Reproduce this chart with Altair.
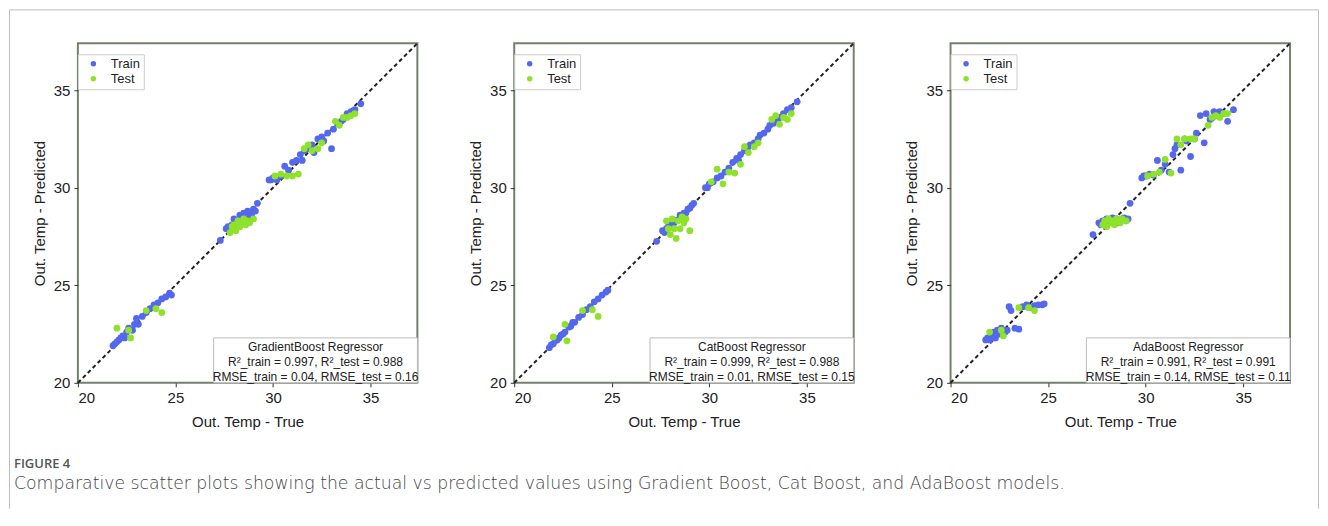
import altair as alt
import pandas as pd

# ---------------- data ----------------
train_true = [21.8, 21.9, 22.0, 22.1, 22.2, 22.3, 22.4, 22.5, 22.6, 22.8, 22.9, 23.0, 23.1, 23.3, 23.5, 23.7, 23.9, 24.1, 24.3, 24.5, 24.7, 24.8,
              27.3, 27.6, 27.7, 27.8, 27.9, 28.0, 28.1, 28.2, 28.3, 28.4, 28.5, 28.6, 28.7, 28.8, 28.9, 29.0, 29.1, 29.2,
              29.8, 29.9, 30.0, 30.2, 30.4, 30.6, 30.8, 31.0, 31.2, 31.4, 31.5, 31.6, 31.8, 32.0, 32.1, 32.3, 32.5, 32.6, 32.8, 33.0,
              33.1, 33.3, 33.5, 33.6, 33.8, 34.0, 34.2, 34.5]
test_true = [22.0, 22.6, 22.7, 23.5, 24.0, 24.3,
             27.8, 27.9, 28.0, 28.1, 28.2, 28.3, 28.4, 28.5, 28.6, 28.7, 28.8, 29.0,
             30.1, 30.4, 30.7, 31.0, 31.3, 31.6, 31.8, 32.0, 32.3, 32.5, 33.2, 33.4, 33.6, 33.8, 34.0, 34.2]

gb_train_pred = [21.9, 22.0, 22.1, 22.2, 22.3, 22.4, 22.3, 22.6, 22.8, 22.7, 23.0, 23.3, 23.0, 23.4, 23.6, 23.8, 24.0, 24.1, 24.3, 24.4, 24.6, 24.5,
                 27.3, 27.9, 28.0, 27.8, 28.1, 28.4, 28.0, 28.3, 28.6, 28.2, 28.7, 28.4, 28.8, 28.5, 28.6, 28.9, 28.8, 29.2,
                 30.4, 30.4, 30.5, 30.4, 30.6, 31.1, 30.9, 31.3, 31.4, 31.7, 31.4, 31.9, 32.0, 32.2, 31.8, 32.5, 32.6, 32.4, 32.8, 32.0,
                 33.0, 33.3, 33.4, 33.5, 33.8, 33.9, 34.0, 34.3]
gb_test_pred = [22.8, 22.7, 22.3, 23.7, 23.8, 23.6,
                27.7, 28.0, 28.1, 27.8, 28.3, 28.0, 28.2, 28.4, 28.1, 28.3, 28.2, 28.4,
                30.6, 30.7, 30.6, 30.6, 30.7, 32.0, 32.2, 31.9, 32.0, 32.3, 33.4, 33.2, 33.6, 33.6, 33.7, 33.8]

cb_train_pred = [21.8, 21.95, 22.0, 22.15, 22.2, 22.3, 22.45, 22.5, 22.6, 22.85, 22.9, 23.1, 23.1, 23.35, 23.5, 23.75, 23.9, 24.15, 24.3, 24.5, 24.65, 24.75,
                 27.25, 27.8, 27.7, 27.9, 28.0, 28.0, 28.2, 28.2, 28.3, 28.35, 28.6, 28.55, 28.7, 28.7, 28.9, 28.95, 29.1, 29.2,
                 30.0, 30.0, 30.2, 30.3, 30.5, 30.6, 30.8, 31.0, 31.3, 31.5, 31.4, 31.7, 31.9, 32.1, 32.2, 32.3, 32.5, 32.7, 32.8, 33.0,
                 33.2, 33.3, 33.5, 33.6, 33.8, 34.0, 34.1, 34.4]
cb_test_pred = [22.35, 23.0, 22.15, 23.7, 23.75, 23.4,
                28.3, 27.9, 27.6, 28.4, 27.9, 27.4, 28.3, 27.9, 28.5, 28.2, 28.4, 27.8,
                30.3, 30.95, 30.2, 30.8, 30.75, 31.2, 32.1, 31.8, 32.1, 32.3, 33.5, 33.7, 33.25, 33.6, 33.5, 33.8]

ada_train_pred = [22.2, 22.3, 22.2, 22.4, 22.6, 22.3, 22.7, 22.5, 22.8, 22.6, 22.7, 23.9, 23.7, 22.8, 22.75, 23.9, 24.0, 23.85, 23.95, 24.0, 24.0, 24.05,
                  27.6, 28.2, 28.1, 28.3, 28.2, 28.4, 28.2, 28.3, 28.45, 28.3, 28.4, 28.2, 28.3, 28.4, 28.45, 28.3, 28.4, 29.2,
                  30.5, 30.6, 30.6, 30.7, 30.65, 31.4, 30.9, 31.2, 30.8, 31.7, 32.0, 32.2, 30.9, 32.5, 32.4, 31.6, 32.5, 32.8, 33.7, 32.3,
                  33.8, 33.5, 33.9, 33.7, 33.9, 33.8, 33.4, 34.0]
ada_test_pred = [22.6, 22.7, 22.4, 23.85, 23.85, 23.7,
                 28.1, 28.3, 28.0, 28.4, 28.2, 28.3, 28.1, 28.4, 28.3, 28.2, 28.4, 28.3,
                 30.6, 30.7, 30.8, 31.45, 30.75, 32.5, 32.2, 32.5, 32.5, 32.5, 33.2, 33.6, 33.7, 33.6, 33.8, 33.8]

model_names = ["GradientBoost Regressor", "CatBoost Regressor", "AdaBoost Regressor"]
r2_train = ["0.997", "0.999", "0.991"]
r2_test = ["0.988", "0.988", "0.991"]
rmse_train = ["0.04", "0.01", "0.14"]
rmse_test = ["0.16", "0.15", "0.11"]

diag = [20, 37.4]
ticks = [20, 25, 30, 35]
sets = ["Train", "Test"]
caption_head = "FIGURE 4"
caption_text = ("Comparative scatter plots showing the actual vs predicted values using "
                "Gradient Boost, Cat Boost, and AdaBoost models.")

BLUE = "#5468ee"
GREEN = "#8fe22a"
FONT = "Liberation Sans"

one = pd.DataFrame({"k": [0]})


def panel(i, train_pred, test_pred, with_frame=False):
    df = pd.DataFrame({
        "true": train_true + test_true,
        "pred": train_pred + test_pred,
        "set": ["Train"] * len(train_true) + ["Test"] * len(test_true),
        "ord": [0] * len(train_true) + [1] * len(test_true),
    })
    sc = alt.Scale(domain=[20, 37.4], nice=False, zero=False)
    pts = alt.Chart(df).mark_circle(size=46, opacity=1).encode(
        x=alt.X("true:Q", scale=sc, axis=alt.Axis(values=ticks, title="Out. Temp - True")),
        y=alt.Y("pred:Q", scale=sc, axis=alt.Axis(values=ticks, title="Out. Temp - Predicted")),
        color=alt.Color("set:N", scale=alt.Scale(domain=sets, range=[BLUE, GREEN]),
                        legend=alt.Legend(title=None, orient="none", legendX=0, legendY=11,
                                          fillColor="white", strokeColor="#cccccc",
                                          padding=3, symbolOffset=6, labelOffset=11,
                                          symbolType="circle", symbolSize=30,
                                          labelFont=FONT, labelFontSize=13, labelColor="#222",
                                          rowPadding=1)),
        order=alt.Order("ord:Q"),
    )
    line = alt.Chart(pd.DataFrame({"v": diag})).mark_line(
        color="#222", strokeDash=[4, 3], strokeWidth=2).encode(
        x=alt.X("v:Q", scale=sc), y=alt.Y("v:Q", scale=sc))
    box = alt.Chart(one).mark_rect(fill="white", stroke="#bbbbbb", strokeWidth=1).encode(
        x=alt.value(136), x2=alt.value(340), y=alt.value(295), y2=alt.value(340))
    txt = (model_names[i] + "\n" +
           "R\u00b2_train = " + r2_train[i] + ", R\u00b2_test = " + r2_test[i] + "\n" +
           "RMSE_train = " + rmse_train[i] + ", RMSE_test = " + rmse_test[i])
    ann = alt.Chart(one).mark_text(lineBreak="\n", lineHeight=15, align="center", baseline="middle",
                                   font=FONT, fontSize=12, color="#222").encode(
        x=alt.value(238), y=alt.value(304), text=alt.value(txt))
    layers = [line, pts, box, ann]
    if with_frame:
        rule_style = dict(color="#bdbdbd", strokeWidth=1)
        top = alt.Chart(one).mark_rule(**rule_style).encode(
            x=alt.value(-68.5), x2=alt.value(1242.5), y=alt.value(-33.5), y2=alt.value(-33.5))
        left = alt.Chart(one).mark_rule(**rule_style).encode(
            x=alt.value(-68.5), x2=alt.value(-68.5), y=alt.value(-33.5), y2=alt.value(466))
        right = alt.Chart(one).mark_rule(**rule_style).encode(
            x=alt.value(1242.5), x2=alt.value(1242.5), y=alt.value(-33.5), y2=alt.value(466))
        head = alt.Chart(one).mark_text(align="left", baseline="alphabetic", font="Open Sans",
                                        fontSize=13, fontWeight=600, color="#555").encode(
            x=alt.value(-64), y=alt.value(425), text=alt.value(caption_head))
        cap = alt.Chart(one).mark_text(align="left", baseline="alphabetic", font="DejaVu Sans",
                                       fontSize=17.3, fontWeight=200, color="#444").encode(
            x=alt.value(-64), y=alt.value(446), text=alt.value(caption_text))
        layers += [top, left, right, head, cap]
    return alt.layer(*layers).properties(width=340, height=340)


p1 = panel(0, gb_train_pred, gb_test_pred, with_frame=True)
p2 = panel(1, cb_train_pred, cb_test_pred)
p3 = panel(2, ada_train_pred, ada_test_pred)

chart = alt.hconcat(p1, p2, p3, spacing=97, bounds="flush").resolve_scale(
    color="independent").resolve_legend(color="independent").properties(
    padding=0, background="white").configure_view(
    stroke="#74806c", strokeWidth=2).configure_axis(
    labelFont=FONT, titleFont=FONT, labelFontSize=15, titleFontSize=15,
    titleFontWeight="normal", labelColor="#222", titleColor="#222",
    grid=False, domain=False, tickColor="#333", tickSize=4, labelPadding=4,
    titlePadding=6).configure_axisX(titlePadding=9)

chart.save("out.html", embed_options={"renderer": "svg", "actions": False})
